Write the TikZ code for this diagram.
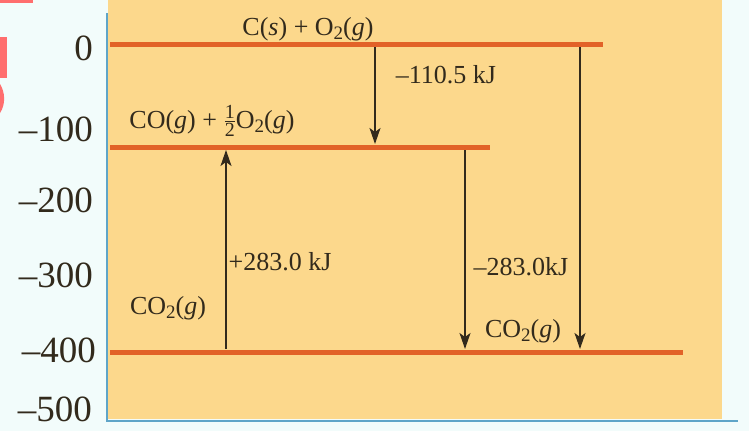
\documentclass[tikz,border=0pt]{standalone}
\usepackage{fontspec}
\setmainfont{Liberation Serif}
\usepackage{amsmath}
\usetikzlibrary{arrows.meta}
\definecolor{bgpale}{RGB}{242,252,251}
\definecolor{tanbg}{RGB}{252,216,140}
\definecolor{lvl}{RGB}{226,98,40}
\definecolor{ink}{RGB}{50,42,28}
\definecolor{frameblue}{RGB}{95,165,200}
\definecolor{redmark}{RGB}{255,110,110}
\newcommand\subtwo{\raisebox{-0.4ex}{\fontsize{19}{19}\selectfont 2}}
\newcommand\halffrac{\ensuremath{\genfrac{}{}{0.8pt}{1}{\text{\fontsize{20}{20}\selectfont 1}}{\text{\fontsize{20}{20}\selectfont 2}}}}
\tikzset{
  level/.style={draw=lvl, line width=5pt},
  arr/.style={draw=ink, line width=1.4pt, -{Stealth[length=16pt,width=11pt,inset=4pt]}},
  axlab/.style={anchor=base east, text=ink, font=\fontsize{37}{40}\selectfont, inner sep=0pt},
  lab/.style={anchor=base, text=ink, font=\fontsize{26}{28}\selectfont, inner sep=0pt},
  blueline/.style={draw=frameblue, line width=2pt}
}
\begin{document}
\begin{tikzpicture}[x=1pt,y=-1pt]
\useasboundingbox (0,0) rectangle (749,431);
\fill[bgpale] (0,0) rectangle (749,431);
% red artifacts
\fill[redmark] (0,0) rectangle (33,3);
\fill[redmark] (0,37) rectangle (7,78);
\fill[redmark] (0,84) .. controls (5,92) and (6,104) .. (0,113) -- cycle;
% panel
\fill[tanbg] (108,0) rectangle (722,419);
\coordinate (fl1) at (107,13);
\coordinate (fl2) at (107,421);
\coordinate (fb2) at (738,421);
\draw[blueline] (fl1) -- (fl2) -- (fb2);
% levels
\coordinate (l0a) at (110,44);   \coordinate (l0b) at (603,44);
\coordinate (l1a) at (110,147);  \coordinate (l1b) at (490,147);
\coordinate (l4a) at (110,352);  \coordinate (l4b) at (683,352);
\draw[level] (l0a) -- (l0b);
\draw[level] (l1a) -- (l1b);
\draw[level] (l4a) -- (l4b);
% arrow end points
\coordinate (a1s) at (375,47);  \coordinate (a1e) at (375,144);
\coordinate (a2s) at (226,349); \coordinate (a2e) at (226,150);
\coordinate (a3s) at (465,150); \coordinate (a3e) at (465,349);
\coordinate (a4s) at (580,47);  \coordinate (a4e) at (580,349);
\draw[arr] (a1s) -- (a1e);
\draw[arr] (a2s) -- (a2e);
\draw[arr] (a3s) -- (a3e);
\draw[arr] (a4s) -- (a4e);
% axis labels
\node[axlab] (y0) at (93,60) {0};
\node[axlab] (y1) at (93,141) {\textendash100};
\node[axlab] (y2) at (93,212) {\textendash200};
\node[axlab] (y3) at (93,287) {\textendash300};
\node[axlab] (y4) at (96,362) {\textendash400};
\node[axlab] (y5) at (92,421) {\textendash500};
% labels
\node[lab] (t0) at (308,35) {C(\textit{s}) + O\subtwo(\textit{g})};
\node[lab] (t1) at (212,128) {CO(\textit{g}) + \halffrac O\subtwo(\textit{g})};
\node[lab] (t4l) at (168,314) {CO\subtwo(\textit{g})};
\node[lab] (t4r) at (523,337) {CO\subtwo(\textit{g})};
\node[lab] (e1) at (446,83) {\textendash110.5 kJ};
\node[lab] (e2) at (280,270) {+283.0 kJ};
\node[lab] (e3) at (521,275) {\textendash283.0kJ};
\end{tikzpicture}
\end{document}
